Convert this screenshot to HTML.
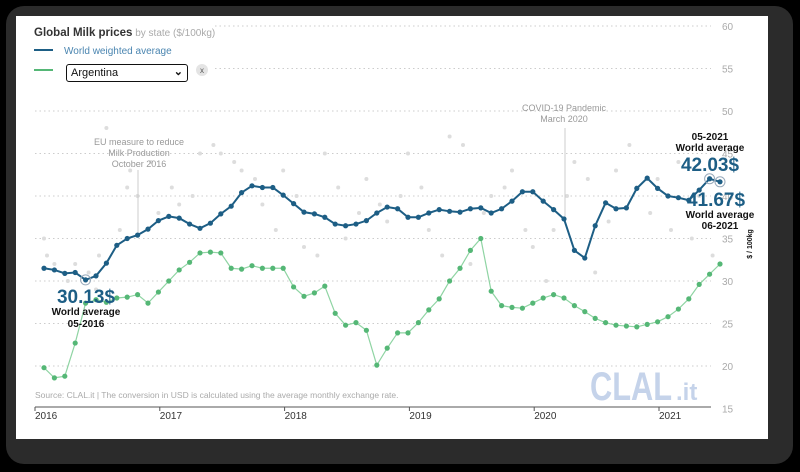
<!DOCTYPE html>
<html><head><meta charset="utf-8">
<style>
html,body{margin:0;padding:0;background:#000;width:800px;height:472px;overflow:hidden;font-family:"Liberation Sans",sans-serif}
#frame{position:absolute;left:6px;top:6px;width:787px;height:458px;background:#2b2b2b;border-radius:18px}
#card{position:absolute;left:16px;top:16px;width:752px;height:423px;background:#fff}
svg{position:absolute;left:0;top:0}
#sel{position:absolute;left:66px;top:64px;width:122px;height:18px;border:1.5px solid #111;border-radius:3px;background:#fff;font-size:11px;color:#111;box-sizing:border-box;padding:2px 4px}
#sel span{position:absolute;right:4px;top:0px;font-size:11px;font-weight:bold}
</style></head><body>
<div id="frame"></div>
<div id="card"></div>
<svg id="chart" width="800" height="472"></svg>
<div id="sel">Argentina<span>⌄</span></div>
<script>
const world=[31.5,31.3,30.9,31.0,30.13,30.6,32.1,34.2,35.0,35.4,36.1,37.1,37.6,37.4,36.7,36.2,36.8,37.9,38.8,40.4,41.2,41.0,41.0,40.1,39.1,38.1,37.9,37.5,36.7,36.5,36.7,37.1,38.0,38.7,38.5,37.5,37.5,38.0,38.4,38.2,38.1,38.5,38.6,38.0,38.5,39.4,40.5,40.5,39.4,38.4,37.3,33.6,32.7,36.5,39.2,38.5,38.6,40.9,42.1,40.9,40.0,39.8,39.5,40.7,42.03,41.67];
const argentina=[19.8,18.6,18.8,22.7,27.4,27.8,27.5,28.0,28.1,28.4,27.4,28.7,30.0,31.3,32.2,33.3,33.4,33.3,31.5,31.4,31.8,31.5,31.5,31.5,29.3,28.2,28.6,29.4,26.2,24.8,25.1,24.2,20.1,22.1,23.9,23.9,25.1,26.6,27.9,30.0,31.5,33.6,35.0,28.8,27.1,26.9,26.8,27.4,28.0,28.4,28.0,27.1,26.4,25.6,25.1,24.8,24.7,24.6,24.9,25.2,25.8,26.7,27.9,29.6,30.8,32.0];
const yTicks=[15,20,25,30,35,40,45,50,55,60];
const xYears=["2016","2017","2018","2019","2020","2021"];
const otherIdx=[0,0,1,2,3,4,5,5,6,7,8,8,9,10,11,12,13,14,15,16,17,18,19,20,21,22,23,24,25,26,27,28,29,30,31,32,33,34,35,36,37,38,39,40,41,42,43,44,45,46,47,48,49,50,51,52,53,54,55,56,57,58,59,60,61,62,63,64];
const otherVal=[35,33,32,30,32,31,29,33,48,36,41,43,40,44,38,41,39,40,45,46,45,44,43,42,39,36,43,40,34,33,45,41,35,38,42,39,37,40,45,41,36,33,47,46,32,38,40,41,43,36,34,30,36,40,44,42,31,37,43,46,41,38,42,36,44,35,40,33];
const NS="http://www.w3.org/2000/svg";
const svg=document.getElementById('chart');
function yS(v){return 26+(60-v)*8.5;}
function xS(i){return 44+i*10.4;}
function mk(t,a,p){const e=document.createElementNS(NS,t);for(const k in a)e.setAttribute(k,a[k]);(p||svg).appendChild(e);return e;}
yTicks.forEach(v=>{
 if(v>15){const g=mk('line',{x1:35,x2:711,y1:yS(v),y2:yS(v),stroke:'#ccc','stroke-dasharray':'1.5,3'});
 
 }
 const t=mk('text',{x:722,y:yS(v)+4,'font-size':10,fill:'#aaa'});t.textContent=v;
 
 
});
mk('rect',{x:30,y:18,width:185,height:70,fill:'#fff'});
otherIdx.forEach((i,k)=>{const c=mk('circle',{cx:xS(i)+((k%2)?3:0),cy:yS(otherVal[k]),r:2,fill:'#ddd'});
 
 });
mk('line',{x1:138,x2:138,y1:170,y2:236,stroke:'#ccc'});
[["EU measure to reduce",145],["Milk Production",156],["October 2016",167]].forEach(a=>{const t=mk('text',{x:139,y:a[1],'font-size':9,fill:'#999','text-anchor':'middle'});t.textContent=a[0];});
mk('line',{x1:565,x2:565,y1:128,y2:218,stroke:'#ccc'});
[["COVID-19 Pandemic",111],["March 2020",122]].forEach(a=>{const t=mk('text',{x:564,y:a[1],'font-size':9,fill:'#999','text-anchor':'middle'});t.textContent=a[0];});
// logo (behind series)
const lg=mk('text',{x:590,y:400,'font-size':40,fill:'#c5d3ea','font-weight':'bold',textLength:82,lengthAdjust:'spacingAndGlyphs'});lg.textContent='CLAL';


const lg2=mk('text',{x:676,y:400,'font-size':24,fill:'#c5d3ea','font-weight':'bold'});lg2.textContent='.it';


function series(d,col,lc,w,name){
 const p=mk('polyline',{points:d.map((v,i)=>xS(i)+','+yS(v)).join(' '),fill:'none',stroke:lc,'stroke-width':w});
 
 
 d.forEach((v,i)=>{const c=mk('circle',{cx:xS(i),cy:yS(v),r:2.6,fill:col});
 
 });
}
series(argentina,'#55b776','#8fd4a3',1.2,'argentina');
series(world,'#1d5e85','#1d5e85',2,'world-average');
mk('circle',{cx:xS(4),cy:yS(world[4]),r:5,fill:'none',stroke:'#9ab'});
mk('circle',{cx:xS(64),cy:yS(world[64]),r:5,fill:'none',stroke:'#9ab'});
mk('circle',{cx:xS(65),cy:yS(world[65]),r:5,fill:'none',stroke:'#9ab'});
mk('line',{x1:35,x2:711,y1:407,y2:407,stroke:'#555','stroke-width':1});
xYears.forEach((y,k)=>{const x=35+k*124.8;mk('line',{x1:x,x2:x,y1:407,y2:411,stroke:'#555'});
 const t=mk('text',{x:x,y:419,'font-size':10,fill:'#333'});t.textContent=y;
 
 });
function txt(s,x,y,sz,col,wt,anc,name){const t=mk('text',{x:x,y:y,'font-size':sz,fill:col,'font-weight':wt||'normal','text-anchor':anc||'start'});t.textContent=s;return t;}
const tt=txt('Global Milk prices',34,36,11.5,'#333','bold','start','chart-title');
const sub=mk('tspan',{fill:'#aaa','font-weight':'normal','font-size':10},tt);sub.textContent=' by state ($/100kg)';
mk('line',{x1:34,x2:53,y1:50,y2:50,stroke:'#1d5e85','stroke-width':2});
txt('World weighted average',64,54,10,'#4a85b0','normal','start','legend-world');
mk('line',{x1:34,x2:53,y1:70,y2:70,stroke:'#55b776','stroke-width':2});
const xc=mk('circle',{cx:202,cy:70,r:6,fill:'#e4e4e4'});


txt('x',202,73,8,'#555','normal','middle','remove-x');
txt('30.13$',86,303,19,'#1d5e85','bold','middle','min-value');
txt('World average',86,315,10,'#111','bold','middle','min-label');
txt('05-2016',86,327,10,'#111','bold','middle','min-date');
txt('05-2021',710,140,10,'#111','bold','middle','max-date');
txt('World average',710,151,10,'#111','bold','middle','max-label');
txt('42.03$',710,171,19,'#1d5e85','bold','middle','max-value');
txt('41.67$',716,206,19,'#1d5e85','bold','middle','last-value');
txt('World average',720,218,10,'#111','bold','middle','last-label');
txt('06-2021',720,229,10,'#111','bold','middle','last-date');
txt('Source: CLAL.it | The conversion in USD is calculated using the average monthly exchange rate.',35,398,8.5,'#aaa','normal','start','source-note');
const yt=mk('text',{x:0,y:0,'font-size':7,fill:'#111','font-weight':'bold',transform:'translate(752,244) rotate(-90)','text-anchor':'middle'});yt.textContent='$ / 100kg';


</script>
</body></html>
